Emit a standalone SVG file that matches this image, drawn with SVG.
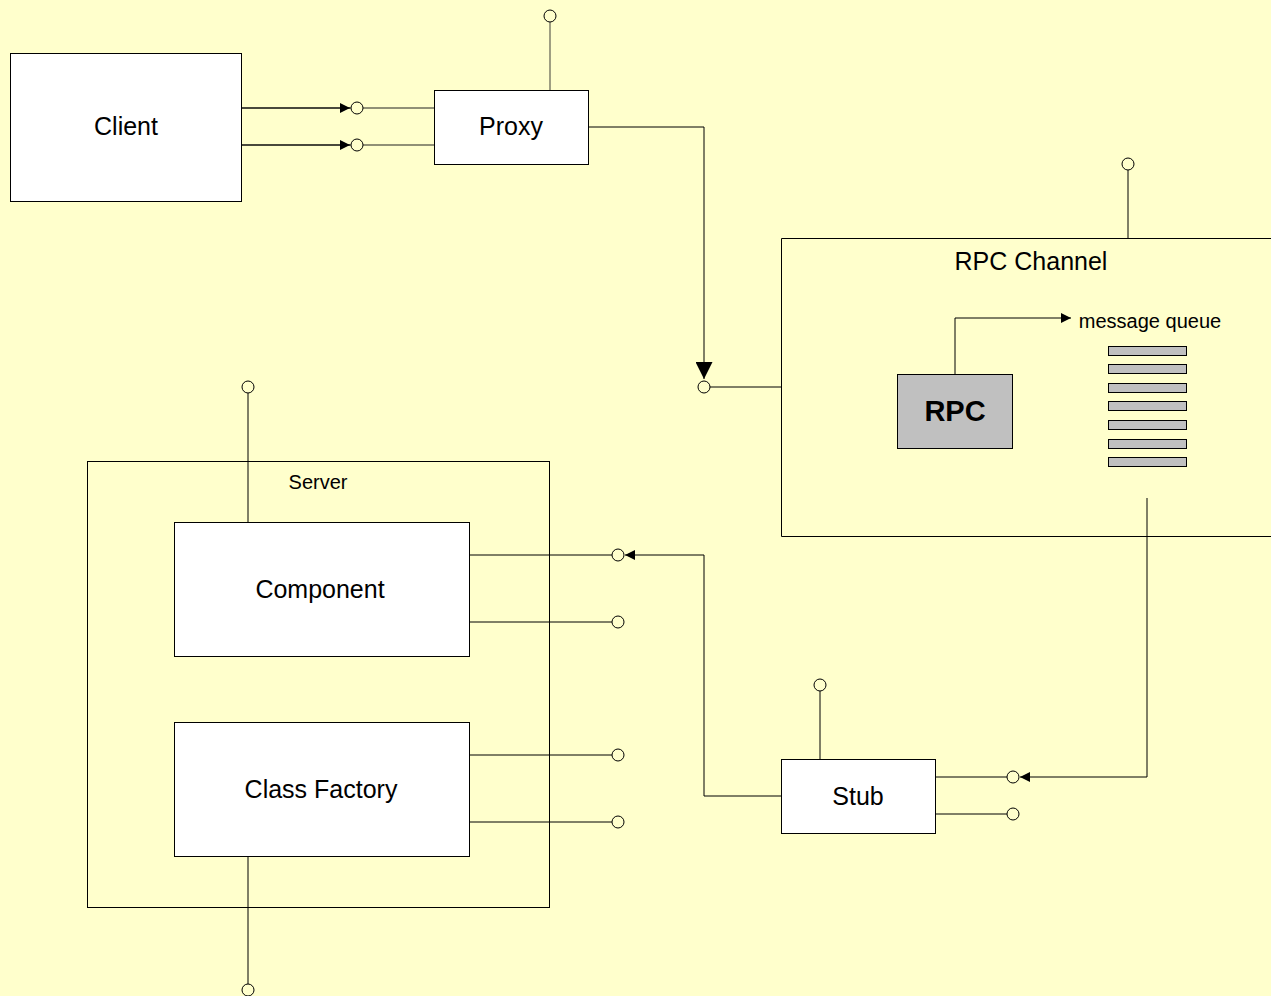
<svg xmlns="http://www.w3.org/2000/svg" width="1271" height="996" viewBox="0 0 1271 996">
<style>
.bg{fill:#FFFFCC}
.box{fill:#fff;stroke:#000;stroke-width:1}
.frame{fill:none;stroke:#000;stroke-width:1}
.ln{fill:none;stroke:#000;stroke-width:1}
.gl{fill:none;stroke:#6b6b5a;stroke-width:1.3}
.lp{fill:#FFFFCC;stroke:#000;stroke-width:1}
.t{font-family:"Liberation Sans",Arial,sans-serif;fill:#000;text-anchor:middle;font-size:25px}
.bar{fill:#c0c0c0;stroke:#000;stroke-width:1}
</style>
<defs>
<marker id="ah" viewBox="0 0 10 10" refX="10" refY="5" markerWidth="10" markerHeight="10" markerUnits="userSpaceOnUse" orient="auto">
<path d="M0,0 L10,5 L0,10 Z" fill="#000"/>
</marker>
<marker id="ahb" viewBox="0 0 10 10" refX="10" refY="5" markerWidth="17" markerHeight="17" markerUnits="userSpaceOnUse" orient="auto">
<path d="M0,0 L10,5 L0,10 Z" fill="#000"/>
</marker>
</defs>
<rect class="bg" x="0" y="0" width="1271" height="996"/>

<g id="connectors">
<path class="gl" d="M242,108 H351"/>
<path class="gl" d="M242,145 H351"/>
<path class="ln" d="M242,108 H350" marker-end="url(#ah)"/>
<path class="ln" d="M242,145 H350" marker-end="url(#ah)"/>
<path class="gl" d="M363,108 H434"/>
<path class="gl" d="M363,145 H434"/>
<path class="ln" d="M588,127 H704 V379" marker-end="url(#ahb)"/>
<path class="ln" d="M710,387 H781"/>
<path class="ln" d="M955,374 V318 H1071" marker-end="url(#ah)"/>
<path class="ln" d="M1147,498 V777 H1020" marker-end="url(#ah)"/>
<path class="ln" d="M781,796 H704 V555 H625" marker-end="url(#ah)"/>
<path class="ln" d="M936,777 H1007"/>
<path class="ln" d="M936,814 H1007"/>
<path class="ln" d="M470,555 H612"/>
<path class="ln" d="M470,622 H612"/>
<path class="ln" d="M470,755 H612"/>
<path class="ln" d="M470,822 H612"/>
</g>

<g id="client">
<rect class="box" x="10.5" y="53.5" width="231" height="148"/>
<text class="t" x="126" y="135">Client</text>
<circle class="lp" cx="357" cy="108" r="6"/>
<circle class="lp" cx="357" cy="145" r="6"/>
</g>

<g id="proxy">
<path class="gl" d="M550,22 V90"/>
<circle class="lp" cx="550" cy="16" r="6"/>
<rect class="box" x="434.5" y="90.5" width="154" height="74"/>
<text class="t" x="511" y="135">Proxy</text>
</g>

<g id="rpc-channel">
<path class="ln" d="M1128,170 V238"/>
<circle class="lp" cx="1128" cy="164" r="6"/>
<path class="frame" d="M1272,238.5 H781.5 V536.5 H1272"/>
<text class="t" x="1031" y="270">RPC Channel</text>
<circle class="lp" cx="704" cy="387" r="6"/>
<rect x="897.5" y="374.5" width="115" height="74" fill="#c0c0c0" stroke="#000"/>
<text class="t" x="955" y="421" style="font-size:29px;font-weight:bold">RPC</text>
<text class="t" x="1150" y="328" style="font-size:20px">message queue</text>
<rect class="bar" x="1108.5" y="346.5" width="78" height="9"/>
<rect class="bar" x="1108.5" y="364.5" width="78" height="9"/>
<rect class="bar" x="1108.5" y="383.5" width="78" height="9"/>
<rect class="bar" x="1108.5" y="401.5" width="78" height="9"/>
<rect class="bar" x="1108.5" y="420.5" width="78" height="9"/>
<rect class="bar" x="1108.5" y="439.5" width="78" height="9"/>
<rect class="bar" x="1108.5" y="457.5" width="78" height="9"/>
</g>

<g id="server">
<rect class="frame" x="87.5" y="461.5" width="462" height="446"/>
<text class="t" x="318" y="489" style="font-size:20px">Server</text>
</g>

<g id="component">
<path class="ln" d="M248,393 V522"/>
<circle class="lp" cx="248" cy="387" r="6"/>
<rect class="box" x="174.5" y="522.5" width="295" height="134"/>
<text class="t" x="320" y="598">Component</text>
<circle class="lp" cx="618" cy="555" r="6"/>
<circle class="lp" cx="618" cy="622" r="6"/>
</g>

<g id="class-factory">
<rect class="box" x="174.5" y="722.5" width="295" height="134"/>
<text class="t" x="321" y="798">Class Factory</text>
<path class="ln" d="M248,856 V984"/>
<circle class="lp" cx="248" cy="990" r="6"/>
<circle class="lp" cx="618" cy="755" r="6"/>
<circle class="lp" cx="618" cy="822" r="6"/>
</g>

<g id="stub">
<path class="ln" d="M820,691 V759"/>
<circle class="lp" cx="820" cy="685" r="6"/>
<rect class="box" x="781.5" y="759.5" width="154" height="74"/>
<text class="t" x="858" y="805">Stub</text>
<circle class="lp" cx="1013" cy="777" r="6"/>
<circle class="lp" cx="1013" cy="814" r="6"/>
</g>
</svg>
